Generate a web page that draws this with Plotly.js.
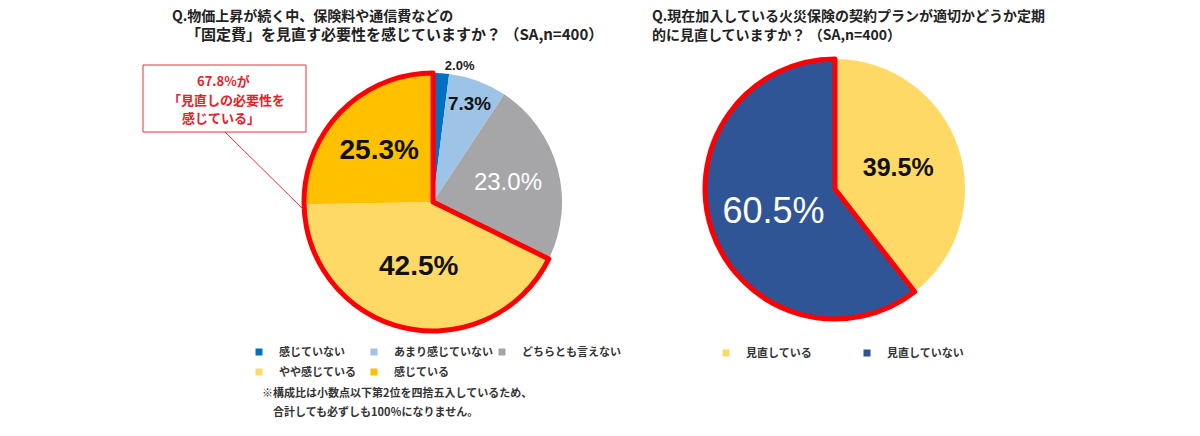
<!DOCTYPE html>
<html>
<head>
<meta charset="utf-8">
<script src="https://cdn.plot.ly/plotly-3.0.1.min.js"></script>
<style>html,body{margin:0;padding:0;background:#fff;}#chart{width:1200px;height:436px;}</style>
</head>
<body>
<div id="chart"></div>
<script>
// ---- data ----
const leftLabels = ['感じていない', 'あまり感じていない', 'どちらとも言えない', 'やや感じている', '感じている'];
const leftValues = [2.0, 7.3, 23.0, 42.5, 25.3];
const leftColors = ['#0070C0', '#9DC3E6', '#A6A6A9', '#FFD966', '#FFC000'];
const leftHighlight = [false, false, false, true, true];

const rightLabels = ['見直している', '見直していない'];
const rightValues = [39.5, 60.5];
const rightColors = ['#FFD966', '#2F5597'];
const rightHighlight = [false, true];

const leftTitleLines = ['Q.物価上昇が続く中、保険料や通信費などの', '「固定費」を見直す必要性を感じていますか？ （SA,n=400）'];
const rightTitleLines = ['Q.現在加入している火災保険の契約プランが適切かどうか定期', '的に見直していますか？ （SA,n=400）'];
const calloutLines = ['%が', '「見直しの必要性を', '感じている」'];
const noteLines = ['※構成比は小数点以下第2位を四捨五入しているため、', '合計しても必ずしも100％になりません。'];

// ---- helpers ----
const W = 1200, H = 436;
const px = x => x / W;
const py = y => 1 - y / H;
const JP = '"Noto Sans CJK JP", "Noto Sans", sans-serif';
const EN = '"Liberation Sans", Arial, sans-serif';
const RED = '#FF0000';
const sum = a => a.reduce((s, v) => s + v, 0);
const fmt = v => v.toFixed(1) + '%';

function outlineValues(vals, hl) {
  return [sum(vals.filter((v, i) => !hl[i])), sum(vals.filter((v, i) => hl[i]))];
}

const leftDomain = {x: [px(304), px(562)], y: [py(331), py(73)]};
const rightDomain = {x: [px(705), px(965)], y: [py(319), py(59)]};

const traces = [];

// left pie
traces.push({
  type: 'pie', labels: leftLabels, values: leftValues, sort: false, direction: 'clockwise', rotation: 0,
  domain: leftDomain,
  marker: {colors: leftColors, line: {width: 0}},
  text: leftValues.map(fmt), textinfo: 'text',
  textposition: ['outside', 'inside', 'inside', 'inside', 'inside'],
  insidetextorientation: 'horizontal',
  textfont: {family: EN, size: [13, 19, 24, 28, 28], color: ['#222', '#111', '#fff', '#111', '#111'], weight: ['bold', 'bold', 'normal', 'bold', 'bold']},
  outsidetextfont: {family: EN, size: 13, color: '#222', weight: 'bold'},
  hoverinfo: 'none', showlegend: false
});
// left red outline around highlighted slices
traces.push({
  type: 'pie', labels: ['a', 'b'], values: outlineValues(leftValues, leftHighlight), sort: false, direction: 'clockwise',
  domain: leftDomain,
  marker: {colors: ['rgba(0,0,0,0)', 'rgba(0,0,0,0)'], line: {color: RED, width: [0, 5]}},
  textinfo: 'none', hoverinfo: 'skip', showlegend: false
});
// right pie
traces.push({
  type: 'pie', labels: rightLabels, values: rightValues, sort: false, direction: 'clockwise', rotation: 0,
  domain: rightDomain,
  marker: {colors: rightColors, line: {width: 0}},
  text: rightValues.map(fmt), textinfo: 'text', textposition: 'inside',
  insidetextorientation: 'horizontal',
  textfont: {family: EN, size: [25, 36], color: ['#111', '#fff'], weight: ['bold', 'normal']},
  hoverinfo: 'none', showlegend: false
});
traces.push({
  type: 'pie', labels: ['c', 'd'], values: outlineValues(rightValues, rightHighlight), sort: false, direction: 'clockwise',
  domain: rightDomain,
  marker: {colors: ['rgba(0,0,0,0)', 'rgba(0,0,0,0)'], line: {color: RED, width: [0, 5]}},
  textinfo: 'none', hoverinfo: 'skip', showlegend: false
});

// legend entries: one legend box per entry so each can sit where the reference puts it
const legendIds = ['legend', 'legend2', 'legend3', 'legend4', 'legend5', 'legend6', 'legend7'];
const legendPos = [[260, 352], [375, 352], [503, 352], [260, 372], [375, 372], [727, 353], [868, 353]];
const allLabels = leftLabels.concat(rightLabels);
const allColors = leftColors.concat(rightColors);
allLabels.forEach((l, i) => traces.push({
  type: 'scatter', x: [null], y: [null], mode: 'markers', name: l,
  marker: {symbol: 'square', size: 7, color: allColors[i]},
  legend: legendIds[i], hoverinfo: 'skip'
}));

const legFont = {family: JP, size: 11, color: '#333', weight: 'bold'};
const legBase = {orientation: 'h', xanchor: 'left', yanchor: 'middle', font: legFont, bgcolor: 'rgba(0,0,0,0)', itemclick: false, itemdoubleclick: false};

const highlightPct = sum(leftValues.filter((v, i) => leftHighlight[i])).toFixed(1);

const layout = {
  width: W, height: H, margin: {l: 0, r: 0, t: 0, b: 0},
  paper_bgcolor: '#fff', plot_bgcolor: '#fff', showlegend: true,
  xaxis: {visible: false}, yaxis: {visible: false},
  annotations: [],
  shapes: [
    {type: 'rect', xref: 'paper', yref: 'paper', x0: px(143), y0: py(132), x1: px(306), y1: py(65), line: {color: '#E8303A', width: 1}, fillcolor: '#fff'},
    {type: 'line', xref: 'paper', yref: 'paper', x0: px(225), y0: py(132), x1: px(303), y1: py(209), line: {color: '#E8303A', width: 1}}
  ]
};
legendIds.forEach((id, i) => {
  layout[id] = Object.assign({}, legBase, {x: px(legendPos[i][0] - 21), y: py(legendPos[i][1])});
});

const titleFont = {family: JP, size: 14, color: '#222', weight: 'bold'};
const title2Font = {family: JP, size: 15, color: '#222', weight: 'bold'};
const ann = (x, y, text, font, xanchor) => ({xref: 'paper', yref: 'paper', x: px(x), y: py(y), xanchor: xanchor || 'left', yanchor: 'middle', align: xanchor === 'center' ? 'center' : 'left', showarrow: false, text: text, font: font});
layout.annotations.push(ann(170, 15, leftTitleLines[0], titleFont));
layout.annotations.push(ann(184, 34, leftTitleLines[1], title2Font));
layout.annotations.push(ann(650, 15, rightTitleLines[0], titleFont));
layout.annotations.push(ann(650, 34, rightTitleLines[1], titleFont));
const callFont = {family: JP, size: 13, color: '#E8202A', weight: 'bold'};
layout.annotations.push(ann(223, 81, highlightPct + calloutLines[0], callFont, 'center'));
layout.annotations.push(ann(226, 99, calloutLines[1], callFont, 'center'));
layout.annotations.push(ann(221, 117, calloutLines[2], callFont, 'center'));
const noteFont = {family: JP, size: 11, color: '#333', weight: 'bold'};
layout.annotations.push(ann(260, 392, noteLines[0], noteFont));
layout.annotations.push(ann(271, 411, noteLines[1], noteFont));

Plotly.newPlot('chart', traces, layout, {displayModeBar: false, staticPlot: true});
</script>
</body>
</html>
